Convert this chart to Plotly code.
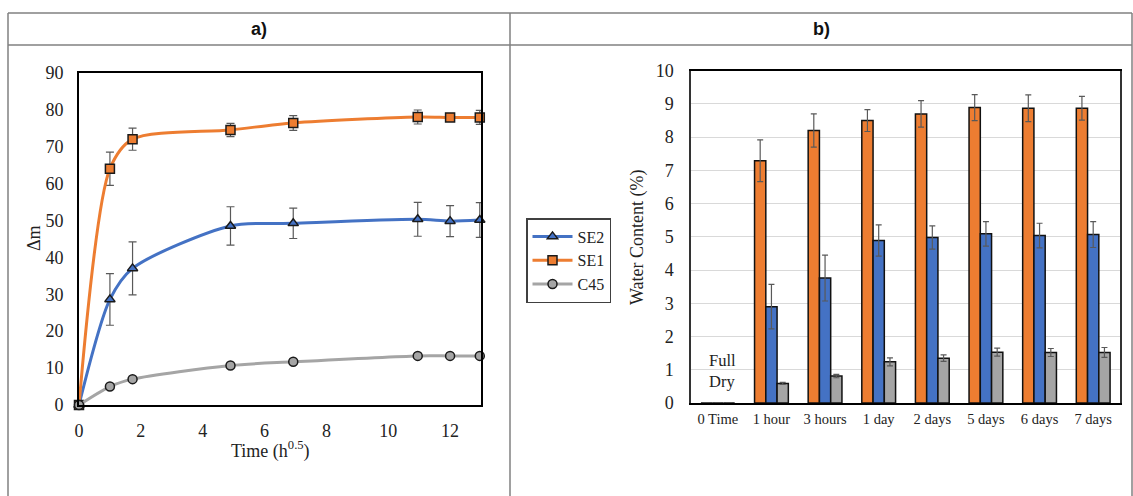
import plotly.graph_objects as go

# ---------------- data ----------------
time_sqrt = [0, 1, 1.732, 4.899, 6.928, 10.954, 12, 12.961]
se2_dm = [0, 28.6, 37.0, 48.5, 49.2, 50.3, 49.8, 50.1]
se2_dm_err = [0, 7.0, 7.2, 5.2, 4.1, 4.6, 4.2, 4.7]
se1_dm = [0, 64.0, 72.0, 74.5, 76.4, 78.0, 77.9, 77.9]
se1_dm_err = [0, 4.5, 3.0, 1.8, 2.0, 1.9, 1.0, 1.9]
c45_dm = [0, 5.0, 7.0, 10.7, 11.7, 13.3, 13.3, 13.3]
c45_dm_err = [0, 0.4, 0.4, 0.5, 0.5, 0.6, 0.5, 0.5]

categories = ["0 Time", "1 hour", "3 hours", "1 day", "2 days", "5 days", "6 days", "7 days"]
se1_wc = [0, 7.29, 8.20, 8.50, 8.70, 8.89, 8.87, 8.87]
se1_wc_err = [0, 0.63, 0.50, 0.33, 0.40, 0.39, 0.40, 0.36]
se2_wc = [0, 2.90, 3.76, 4.89, 4.98, 5.09, 5.04, 5.07]
se2_wc_err = [0, 0.67, 0.69, 0.47, 0.35, 0.37, 0.37, 0.39]
c45_wc = [0, 0.59, 0.81, 1.24, 1.35, 1.53, 1.52, 1.52]
c45_wc_err = [0, 0.03, 0.05, 0.12, 0.10, 0.12, 0.12, 0.15]

BLUE = "#4472C4"
ORANGE = "#ED7D31"
GRAY = "#A5A5A5"
SERIF = "Liberation Serif, Times New Roman, serif"
W, H = 1133, 496

def px(x):
    return x / W

def py(y):
    return 1 - y / H

fig = go.Figure()

# ---------------- left chart ----------------
line_specs = [
    ("SE2", se2_dm, se2_dm_err, BLUE, "triangle-up", 9),
    ("SE1", se1_dm, se1_dm_err, ORANGE, "square", 9),
    ("C45", c45_dm, c45_dm_err, GRAY, "circle", 9),
]
for name, ys, err, col, sym, sz in line_specs:
    fig.add_trace(go.Scatter(
        x=time_sqrt, y=ys, name=name, mode="lines+markers",
        line=dict(color=col, width=3, shape="spline", smoothing=0.8),
        marker=dict(symbol=sym, size=sz, color=col, line=dict(color="#1a1a1a", width=1.5)),
        error_y=dict(type="data", array=err, color="#595959", thickness=1.2, width=4),
        cliponaxis=False, xaxis="x", yaxis="y",
    ))

# ---------------- right chart ----------------
bar_specs = [
    ("SE1", se1_wc, se1_wc_err, ORANGE),
    ("SE2", se2_wc, se2_wc_err, BLUE),
    ("C45", c45_wc, c45_wc_err, GRAY),
]
for name, ys, err, col in bar_specs:
    fig.add_trace(go.Bar(
        x=categories, y=ys, name=name, showlegend=False,
        marker=dict(color=col, line=dict(color="#111111", width=1.5)),
        error_y=dict(type="data", array=err, color="#595959", thickness=1.2, width=3),
        xaxis="x2", yaxis="y2",
    ))

tickfont = dict(family=SERIF, size=18, color="#222222")

fig.update_layout(
    template="none",
    width=W, height=H, autosize=False,
    margin=dict(l=0, r=0, t=0, b=0, pad=0, autoexpand=False),
    paper_bgcolor="white", plot_bgcolor="white",
    barmode="group", bargap=0.37, bargroupgap=0,
    showlegend=True,
    legend=dict(
        x=px(526), y=py(218), xanchor="left", yanchor="top",
        bordercolor="#404040", borderwidth=1.5, bgcolor="white",
        font=dict(family=SERIF, size=16, color="#222222"),
        tracegroupgap=0, itemwidth=40,
    ),
    xaxis=dict(
        domain=[px(79), px(481)], range=[0, 13], dtick=2, tick0=0,
        showgrid=False, zeroline=False, showline=True, mirror=True, automargin=False,
        linecolor="black", linewidth=2, ticks="outside", ticklen=8,
        tickcolor="rgba(0,0,0,0)", tickfont=tickfont, anchor="y",
    ),
    yaxis=dict(
        domain=[py(405), py(72.7)], range=[0, 90], dtick=10,
        showgrid=False, zeroline=False, showline=True, mirror=True, automargin=False,
        linecolor="black", linewidth=2, ticks="outside", ticklen=10,
        tickcolor="rgba(0,0,0,0)", tickfont=tickfont, anchor="x",
    ),
    xaxis2=dict(
        domain=[px(691), px(1120)], showgrid=False, zeroline=False, automargin=False,
        showline=True, mirror=True, linecolor="black", linewidth=1.8,
        ticks="outside", ticklen=2, tickcolor="rgba(0,0,0,0)",
        tickfont=dict(family=SERIF, size=14.5, color="#222222"), anchor="y2",
    ),
    yaxis2=dict(
        domain=[py(403), py(70.7)], range=[0, 10], dtick=1, automargin=False,
        showgrid=True, gridcolor="#d9d9d9", gridwidth=1, zeroline=False,
        showline=True, mirror=True, linecolor="#333333", linewidth=1.5,
        ticks="outside", ticklen=12, tickcolor="rgba(0,0,0,0)",
        tickfont=tickfont, anchor="x2",
    ),
)

# ---------------- table frame ----------------
frame_col = "#808080"
shapes = [
    dict(type="line", xref="paper", yref="paper", x0=px(8), x1=px(1132), y0=py(13), y1=py(13)),
    dict(type="line", xref="paper", yref="paper", x0=px(8), x1=px(1132), y0=py(45), y1=py(45)),
    dict(type="line", xref="paper", yref="paper", x0=px(8), x1=px(8), y0=py(13), y1=0),
    dict(type="line", xref="paper", yref="paper", x0=px(510), x1=px(510), y0=py(13), y1=0),
    dict(type="line", xref="paper", yref="paper", x0=px(1132), x1=px(1132), y0=py(13), y1=0),
]
for s in shapes:
    s["line"] = dict(color=frame_col, width=1.5)
fig.update_layout(shapes=shapes)

# ---------------- text ----------------
hdr = dict(family="Liberation Sans Narrow, Liberation Sans, Arial", size=18, color="#111111")
txt = dict(family=SERIF, size=18, color="#222222")
ann = [
    dict(text="<b>a)</b>", x=px(259), y=py(29), font=hdr),
    dict(text="<b>b)</b>", x=px(821), y=py(29), font=hdr),
    dict(text="Δm", x=px(34), y=py(238), textangle=-90, font=txt),
    dict(text="Time (h<sup>0.5</sup>)", x=px(270), y=py(450), font=txt),
    dict(text="Water Content (%)", x=px(638), y=py(237), textangle=-90, font=txt),
    dict(text="Full<br>Dry", x=px(707), y=py(371), xanchor="left", align="left",
         font=dict(family=SERIF, size=16.5, color="#222222")),
]
for a in ann:
    a.setdefault("xanchor", "center")
    a.update(xref="paper", yref="paper", showarrow=False, yanchor="middle")
fig.update_layout(annotations=ann)

fig.write_html(
    "out.html",
    config={"displayModeBar": False},
    post_script="document.documentElement.style.margin='0';document.body.style.margin='0';document.body.style.padding='0';document.body.style.overflow='hidden';",
)
